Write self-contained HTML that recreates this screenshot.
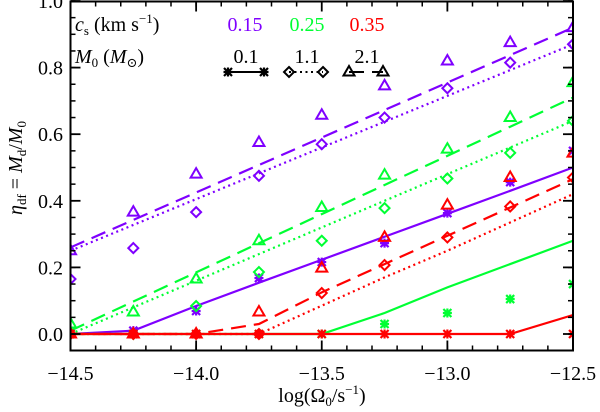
<!DOCTYPE html>
<html><head><meta charset="utf-8">
<style>
html,body{margin:0;padding:0;background:#fff;}
svg, svg text{font-family:"Liberation Serif","DejaVu Serif",serif;}
</style></head>
<body>
<svg id="chart" width="600" height="407" viewBox="0 0 600 407" xmlns="http://www.w3.org/2000/svg" font-family="Liberation Serif, serif">
<g id="plot"></g>
<g id="axes"></g>
<g id="legend">
  <text x="75" y="31" font-size="20" font-style="italic">c<tspan font-size="13" font-style="normal" dy="4">s</tspan><tspan dy="-4" font-style="normal"> (km s</tspan><tspan font-size="13" font-style="normal" dy="-8">−1</tspan><tspan dy="8" font-style="normal">)</tspan></text>
  <text x="245" y="31" font-size="20" fill="#7f00ff" text-anchor="middle">0.15</text>
  <text x="307" y="31" font-size="20" fill="#00ff33" text-anchor="middle">0.25</text>
  <text x="367" y="31" font-size="20" fill="#ff0000" text-anchor="middle">0.35</text>
  <text x="75" y="63" font-size="20" font-style="italic">M<tspan font-size="13" font-style="normal" dy="4">0</tspan><tspan dy="-4" font-style="normal"> (</tspan>M<tspan font-size="13" font-style="normal" dy="4">⊙</tspan><tspan dy="-4" font-style="normal">)</tspan></text>
  <text x="246" y="63" font-size="20" text-anchor="middle">0.1</text>
  <text x="307" y="63" font-size="20" text-anchor="middle">1.1</text>
  <text x="367" y="63" font-size="20" text-anchor="middle">2.1</text>
  <g id="legmarks"></g>
</g>
<text x="322" y="402" font-size="20" text-anchor="middle">log(Ω<tspan font-size="13" dy="4">0</tspan><tspan dy="-4">/s</tspan><tspan font-size="13" dy="-8">−1</tspan><tspan dy="8">)</tspan></text>
<text transform="translate(22,168) rotate(-90)" font-size="20" text-anchor="middle"><tspan font-style="italic">η</tspan><tspan font-size="13" dy="4">df</tspan><tspan dy="-4"> = </tspan><tspan font-style="italic">M</tspan><tspan font-size="13" dy="4">d</tspan><tspan dy="-4">/</tspan><tspan font-style="italic">M</tspan><tspan font-size="13" dy="4">0</tspan></text>
</svg>
<script>
const xs = [-14.5,-14.25,-14.0,-13.75,-13.5,-13.25,-13.0,-12.75,-12.5];
// purple cs=0.15
const pSolid = [0,0.01,0.084,0.154,0.223,0.292,0.361,0.43,0.5];
const pDot = [0.25,0.3275,0.405,0.4825,0.56,0.6375,0.715,0.7925,0.87];
const pDash = [0.26,0.3425,0.425,0.5075,0.59,0.6725,0.755,0.8375,0.92];
const pStar = [0,0.01,0.069,0.168,0.216,0.273,0.363,0.456,0.55];
const pDiam = [0.165,0.258,0.366,0.475,0.57,0.65,0.738,0.815,0.87];
const pTri = [0.25,0.366,0.48,0.575,0.657,0.745,0.82,0.875,0.92];
// green cs=0.25
const gSolid = [0,0,0,0,0,0.063,0.14,0.21,0.28];
const gDot = [0,0.08,0.16,0.24,0.32,0.40,0.48,0.56,0.64];
const gDash = [0.01,0.0975,0.185,0.2725,0.36,0.4475,0.535,0.6225,0.71];
const gStar = [0,0,0,0,0,0.03,0.063,0.105,0.15];
const gDiam = [0,0,0.084,0.186,0.28,0.378,0.467,0.544,0.64];
const gTri = [0.03,0.066,0.165,0.28,0.38,0.477,0.555,0.65,0.755];
// red cs=0.35
const rSolid = [0,0,0,0,0,0,0,0,0.057];
const rDot = [0,0,0,0,0.085,0.17,0.25,0.335,0.42];
const rDash = [0,0,0,0.03,0.125,0.21,0.295,0.38,0.465];
const rStar = [0,0,0,0,0,0,0,0,0];
const rDiam = [0,0,0,0,0.123,0.207,0.29,0.383,0.47];
const rTri = [0,0,0,0.066,0.198,0.29,0.387,0.47,0.543];
const xTicks = [-14.5,-14.0,-13.5,-13.0,-12.5];
const xTickLabels = ["−14.5","−14.0","−13.5","−13.0","−12.5"];
const yTicks = [0,0.2,0.4,0.6,0.8,1.0];
const yTickLabels = ["0.0","0.2","0.4","0.6","0.8","1.0"];

const L=70.5,R=573,T=1.5,B=350.5;
function X(v){return L+(v+14.5)/2*(R-L);}
function Y(v){return 334-v*333;}
const NS="http://www.w3.org/2000/svg";
function mk(tag,attrs,parent){const e=document.createElementNS(NS,tag);for(const k in attrs)e.setAttribute(k,attrs[k]);parent.appendChild(e);return e;}
const plot=document.getElementById('plot'),axes=document.getElementById('axes');
const clip=mk('clipPath',{id:'cp'},document.getElementById('chart'));
mk('rect',{x:L,y:T,width:R-L,height:B-T},clip);
plot.setAttribute('clip-path','url(#cp)');

function line(vals,color,dash,name){
  const p=mk('polyline',{points:xs.map((x,i)=>X(x)+','+Y(vals[i])).join(' '),fill:'none',stroke:color,'stroke-width':2.2,'stroke-dasharray':dash},plot);
  
  
}
function marker(type,cx,cy,color,parent,name){
  let e;
  if(type==='star'){
    e=mk('path',{d:`M${cx-4},${cy-4}L${cx+4},${cy+4}M${cx+4},${cy-4}L${cx-4},${cy+4}M${cx-4.5},${cy}L${cx+4.5},${cy}M${cx},${cy-4.5}L${cx},${cy+4.5}`,stroke:color,'stroke-width':2.2,fill:'none'},parent);
  }else if(type==='diam'){
    e=mk('path',{d:`M${cx},${cy-5}L${cx+5},${cy}L${cx},${cy+5}L${cx-5},${cy}Z`,stroke:color,'stroke-width':2,fill:'none'},parent);
  }else{
    e=mk('path',{d:`M${cx},${cy-6}L${cx+5.5},${cy+3.5}L${cx-5.5},${cy+3.5}Z`,stroke:color,'stroke-width':2,fill:'none'},parent);
  }
  
  
}
function points(vals,type,color,name){xs.forEach((x,i)=>marker(type,X(x),Y(vals[i]),color,plot,name));}
const series=[
 ['#7f00ff',pSolid,pDot,pDash,pStar,pDiam,pTri,'purple'],
 ['#00ff33',gSolid,gDot,gDash,gStar,gDiam,gTri,'green'],
 ['#ff0000',rSolid,rDot,rDash,rStar,rDiam,rTri,'red']];
series.forEach(s=>{
  line(s[1],s[0],'none',s[7]+'-solid-line');
  line(s[2],s[0],'2 3.5',s[7]+'-dotted-line');
  line(s[3],s[0],'15 8',s[7]+'-dashed-line');
  points(s[4],'star',s[0],s[7]+'-asterisk-point');
  points(s[5],'diam',s[0],s[7]+'-diamond-point');
  points(s[6],'tri',s[0],s[7]+'-triangle-point');
});
const fr=mk('rect',{x:L,y:T,width:R-L,height:B-T,fill:'none',stroke:'#000','stroke-width':2},axes);


for(let v=-14.5;v<=-12.49;v+=0.1){const x=X(v);mk('line',{x1:x,x2:x,y1:B,y2:B-5,stroke:'#000','stroke-width':1.5},axes);mk('line',{x1:x,x2:x,y1:T,y2:T+5,stroke:'#000','stroke-width':1.5},axes);}
for(let v=-0.05;v<=1.001;v+=0.05){const y=Y(v);mk('line',{x1:L,x2:L+5,y1:y,y2:y,stroke:'#000','stroke-width':1.5},axes);mk('line',{x1:R,x2:R-5,y1:y,y2:y,stroke:'#000','stroke-width':1.5},axes);}
xTicks.forEach((v,i)=>{const x=X(v);
  mk('line',{x1:x,x2:x,y1:B,y2:B-10,stroke:'#000','stroke-width':1.8},axes);
  mk('line',{x1:x,x2:x,y1:T,y2:T+10,stroke:'#000','stroke-width':1.8},axes);
  const t=mk('text',{x:x,y:380,'font-size':20,'text-anchor':'middle','font-family':'Liberation Serif, serif'},axes);t.textContent=xTickLabels[i];
  
  
});
yTicks.forEach((v,i)=>{const y=Y(v);
  mk('line',{x1:L,x2:L+10,y1:y,y2:y,stroke:'#000','stroke-width':1.8},axes);
  mk('line',{x1:R,x2:R-10,y1:y,y2:y,stroke:'#000','stroke-width':1.8},axes);
  const t=mk('text',{x:63,y:y+7,'font-size':20,'text-anchor':'end','font-family':'Liberation Serif, serif'},axes);t.textContent=yTickLabels[i];
  
  
});
const lg=document.getElementById('legmarks');
function legLine(x1,x2,dash,type,name){
  const l=mk('line',{x1:x1,x2:x2,y1:72,y2:72,stroke:'#000','stroke-width':2,'stroke-dasharray':dash},lg);
  
  
  marker(type,x1,72,'#000',lg,name+'-marker');marker(type,x2,72,'#000',lg,name+'-marker');
}
legLine(228,264,'none','star','legend-solid');
legLine(289,323,'2 3.5','diam','legend-dotted');
legLine(349,383,'15 8','tri','legend-dashed');
</script>
</body></html>
